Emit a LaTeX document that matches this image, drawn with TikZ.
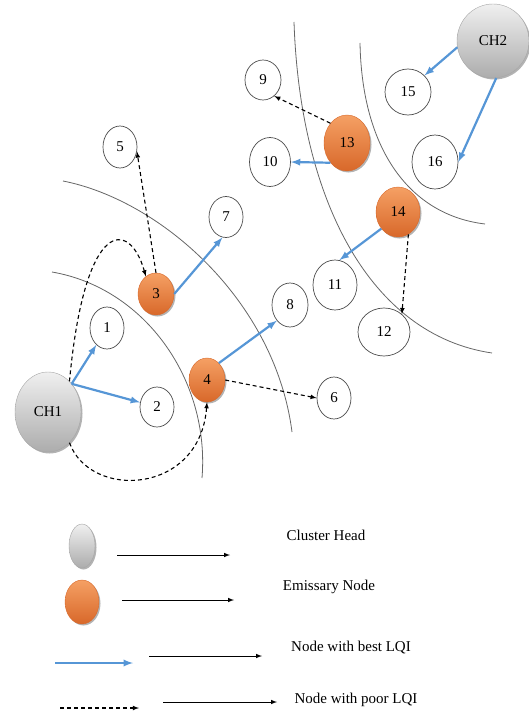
\documentclass[tikz,border=0pt]{standalone}
\usepackage{fontspec}
\setmainfont{Liberation Serif}
\usetikzlibrary{shadows,shapes}

\definecolor{lqiblue}{RGB}{86,150,214}
\definecolor{emisstop}{RGB}{245,160,100}
\definecolor{emissbot}{RGB}{216,104,42}

\begin{document}
\begin{tikzpicture}[x=1pt,y=-1pt,>=latex]
\tikzstyle{every node}=[font=\fontsize{15}{17}\selectfont]
\tikzstyle{plainnode}=[ellipse,draw=black!70,line width=0.7pt,fill=white,inner sep=0pt]
\tikzstyle{headnode}=[ellipse,draw=gray!70,inner sep=0pt,top color=gray!12,bottom color=gray!65,
  drop shadow={shadow xshift=1.5pt,shadow yshift=-1.5pt,opacity=.6}]
\tikzstyle{emissnode}=[ellipse,draw=emissbot,inner sep=0pt,top color=emisstop,bottom color=emissbot,
  drop shadow={shadow xshift=1.5pt,shadow yshift=-1.5pt,opacity=.6}]
\tikzstyle{bestlqi}=[->,draw=lqiblue,line width=2.2pt]
\tikzstyle{poorlqi}=[->,line width=1.1pt,dash pattern=on 4pt off 3pt]
\tikzstyle{rangearc}=[draw=black!60,line width=0.8pt]
\tikzstyle{legarrow}=[->,line width=1pt]

\useasboundingbox (0,0) rectangle (529,717);

%% Range boundaries
\draw[rangearc] (52,272) .. controls (145,288) and (210,380) .. (202,478);
\draw[rangearc] (63,181) .. controls (160,200) and (275,300) .. (292,432);
\draw[rangearc] (294,22) .. controls (300,200) and (370,335) .. (492,353);
\draw[rangearc] (360,43) .. controls (362,150) and (410,215) .. (485,224);

%% Cluster heads and emissary nodes
\node[headnode,minimum width=66pt,minimum height=80pt] (ch1) at (48,412) {CH1};
\node[headnode,minimum width=72pt,minimum height=74pt] (ch2) at (493,41) {CH2};
\foreach \n/\x/\y/\w/\h in {3/156/294/36/42, 4/207/380/36/44, 13/347/143/46/56, 14/398/212/44/50}
  \node[emissnode,minimum width=\w pt,minimum height=\h pt] (n\n) at (\x,\y) {\n};

%% Ordinary nodes
\foreach \n/\x/\y/\w/\h in {1/107/328/34/42, 2/157/407/34/40, 5/120/147/34/42, 6/334/398/34/42,
  7/226/217/34/41, 8/290/305/36/44, 9/263/80/36/40, 10/270/162/41/49,
  11/335/285/44/50, 12/384/332/52/48, 15/408/92/46/46, 16/435/162/46/54}
  \node[plainnode,minimum width=\w pt,minimum height=\h pt] (n\n) at (\x,\y) {\n};

%% Links with best LQI
\draw[bestlqi] (ch1.50) -- (n1);
\draw[bestlqi] (ch1.50) -- (n2);
\draw[bestlqi] (n3.east) -- (n7.260);
\draw[bestlqi] (n4.55) -- (n8.230);
\draw[bestlqi] (n13.230) -- (n10.east);
\draw[bestlqi] (n14.225) -- (n11.80);
\draw[bestlqi] (ch2.190) -- (n15.45);
\draw[bestlqi] (ch2.-85) -- (n16.east);

%% Links with poor LQI
\draw[poorlqi] (ch1.55) .. controls (85,215) and (130,220) .. (n3.120);
\draw[poorlqi] (ch1.-55) .. controls (90,500) and (200,495) .. (n4.south);
\draw[poorlqi] (n3.north) -- (n5.-15);
\draw[poorlqi] (n4.east) -- (n6.west);
\draw[poorlqi] (n13.130) -- (n9.-55);
\draw[poorlqi] (n14.-65) -- (n12.45);

%% Legend
\node[headnode,minimum width=26pt,minimum height=44pt] (lgch) at (82,546) {};
\node[emissnode,minimum width=34pt,minimum height=44pt] (lgem) at (82,602) {};
\node (lgtxt1) at (326,535) {Cluster Head};
\node (lgtxt2) at (329,587) {Emissary Node};
\node (lgtxt3) at (351,648) {Node with best LQI};
\node (lgtxt4) at (356,700) {Node with poor LQI};

\coordinate (lgbest1) at (55,663);
\coordinate (lgbest2) at (133,663);
\coordinate (lgpoor1) at (60,708);
\coordinate (lgpoor2) at (139,708);
\draw[bestlqi] (lgbest1) -- (lgbest2);
\draw[poorlqi] (lgpoor1) -- (lgpoor2);

\foreach \i/\xa/\xb/\y in {1/117/230/555, 2/122/234/600, 3/149/262/656, 4/163/277/702}{
  \coordinate (lgfrom\i) at (\xa,\y);
  \coordinate (lgto\i) at (\xb,\y);
  \draw[legarrow] (lgfrom\i) -- (lgto\i);
}

\end{tikzpicture}
\end{document}
